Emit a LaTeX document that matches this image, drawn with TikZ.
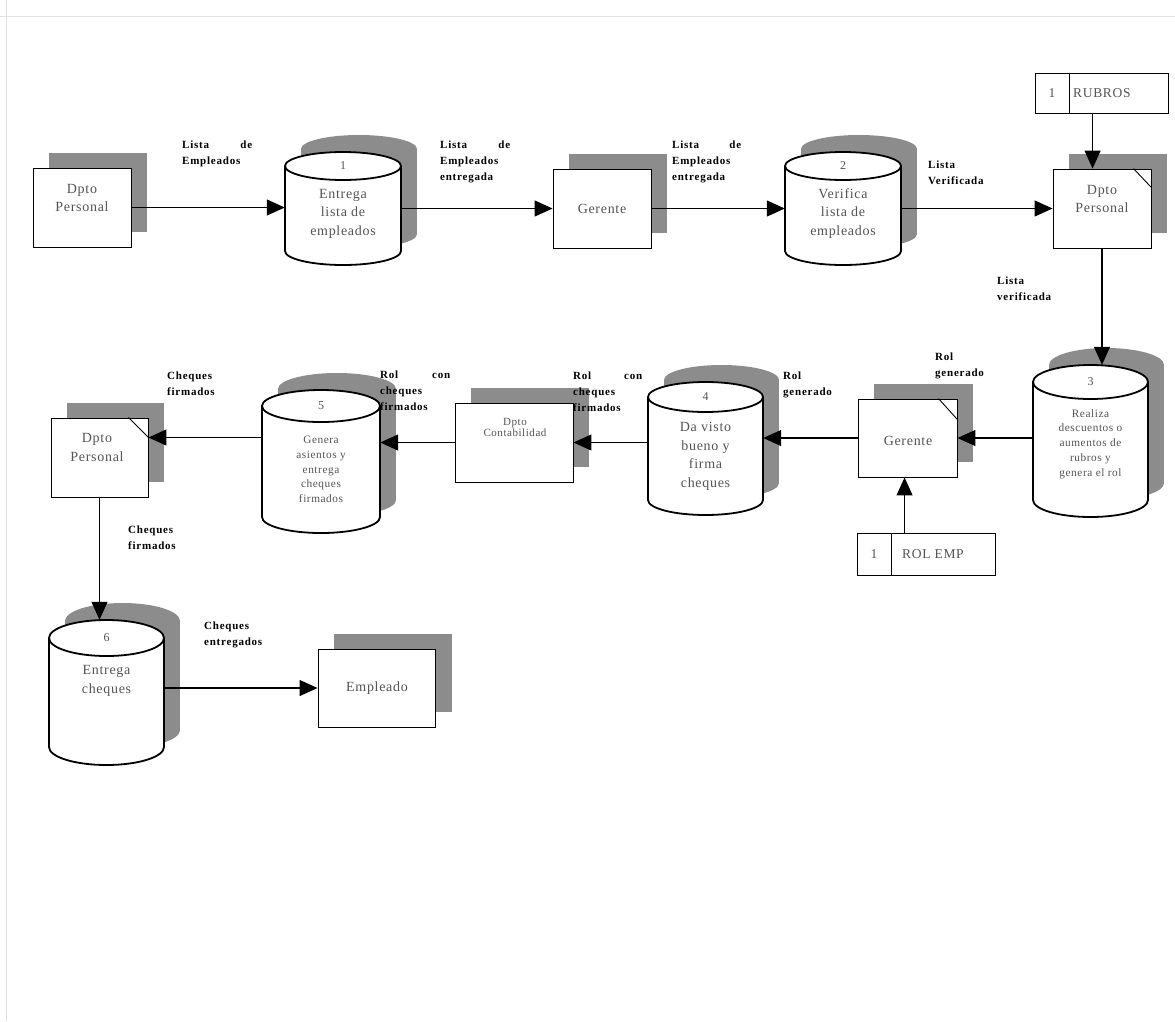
\documentclass[tikz,border=0pt]{standalone}
\usepackage{fontspec}
\setmainfont{Liberation Serif}
\newfontfamily\lblfont[LetterSpace=7]{Liberation Serif}
\newfontfamily\infont[LetterSpace=5]{Liberation Serif}
\usetikzlibrary{arrows.meta,calc,shadows}
\definecolor{shadowc}{gray}{0.55}
\definecolor{txtc}{gray}{0.33}
\tikzset{
  cylline/.style={draw=black, line width=1.8pt, fill=white},
  flow/.style={draw=black, line width=1.1pt, -{Triangle[length=18pt,width=16pt]}},
  entity/.style={draw=black, line width=0.9pt, fill=white, minimum width=98pt, minimum height=79pt, inner sep=0pt,
    drop shadow={shadow xshift=16pt, shadow yshift=15pt, fill=shadowc, opacity=1}},
  store/.style={draw=black, line width=0.9pt, fill=white, inner sep=0pt, minimum height=40pt},
  intxt/.style={font=\infont\fontsize{14}{18.5}\selectfont, text=txtc, align=center, inner sep=0pt},
  smalltxt/.style={font=\infont\fontsize{11.3}{14.8}\selectfont, text=txtc, align=center, inner sep=0pt},
  numtxt/.style={font=\infont\fontsize{12}{14}\selectfont, text=txtc, inner sep=0pt},
  lbl/.style={font=\lblfont\bfseries\fontsize{11}{16}\selectfont, anchor=north west, inner sep=0pt, align=left},
  storetxt/.style={font=\infont\fontsize{13.5}{16}\selectfont, text=txtc, inner sep=0pt},
}
% #1 name, #2 cx, #3 half width, #4 top centre y, #5 bottom centre y, #6 ry, #7 number
\newcommand\dfdcyl[7]{%
  \fill[shadowc] ({#2+16},{#4-17}) ellipse[x radius=#3, y radius=#6];
  \fill[shadowc] ({#2-#3+16},{#4-17}) rectangle ({#2+#3+16},{#5-17});
  \fill[shadowc] ({#2+16},{#5-17}) ellipse[x radius=#3, y radius=#6];
  \filldraw[cylline] (#2,#5) ellipse[x radius=#3, y radius=#6];
  \fill[white] ({#2-#3},#4) rectangle ({#2+#3},#5);
  \draw[cylline] ({#2-#3},#4) -- ({#2-#3},#5) ({#2+#3},#4) -- ({#2+#3},#5);
  \filldraw[cylline] (#2,#4) ellipse[x radius=#3, y radius=#6];
  \node[inner sep=0pt, minimum width={2*#3}, minimum height={#5-#4+2*#6}] (#1) at (#2,{(#4+#5)/2}) {};
  \node[numtxt] (#1n) at (#2,#4) {#7};
}
\begin{document}
\begin{tikzpicture}[x=1pt,y=-1pt]
\useasboundingbox (0,0) rectangle (1175,1021);
\fill[white] (0,0) rectangle (1175,1021);
\draw[gray!22, line width=1pt] (0,16) -- (1175,16) (6,0) -- (6,1021);

% ---- top row ----
\node[entity] (dp1) at (82,207.5) {};
\node[intxt] (dp1t) at (82,198) {Dpto\\Personal};

\dfdcyl{c1}{343}{58}{166}{251}{14}{1}
\node[intxt] (c1x) at (343,213.5) {Entrega\\lista de\\empleados};

\node[entity] (ger1) at (602,208.5) {};
\node[intxt] (ger1t) at (602,208.5) {Gerente};

\dfdcyl{c2}{843}{58}{166}{251}{14}{2}
\node[intxt] (c2x) at (843,213.5) {Verifica\\lista de\\empleados};

\node[entity] (dp2) at (1102,208.5) {};
\draw[line width=0.9pt] ($(dp2.north east)+(-18,0)$) -- ($(dp2.north east)+(0,19)$);
\node[intxt] (dp2t) at (1102,199) {Dpto\\Personal};

\node[store, minimum width=133pt] (rub) at (1101.5,93) {};
\draw[line width=0.9pt] ($(rub.north west)+(35,0)$) -- ($(rub.south west)+(35,0)$);
\node[storetxt] (rub1) at (1052,93) {1};
\node[storetxt, anchor=west] (rubt) at (1073,93) {RUBROS};

% ---- second row ----
\dfdcyl{c3}{1090.5}{57.5}{382}{500}{17}{3}
\node[smalltxt] (c3x) at (1090.5,444) {Realiza\\descuentos o\\aumentos de\\rubros y\\genera el rol};

\node[entity, minimum width=99pt, minimum height=78pt] (ger2) at (907.5,438) {};
\draw[line width=0.9pt] ($(ger2.north east)+(-19,0)$) -- ($(ger2.north east)+(0,21)$);
\node[intxt] (ger2t) at (908,441) {Gerente};

\node[store, minimum width=138pt, minimum height=42pt] (rol) at (926,554) {};
\draw[line width=0.9pt] ($(rol.north west)+(35,0)$) -- ($(rol.south west)+(35,0)$);
\node[storetxt] (rol1) at (874,554) {1};
\node[storetxt, anchor=west] (rolt) at (902,554) {ROL EMP};

\dfdcyl{c4}{705.5}{57.5}{397}{500}{15}{4}
\node[intxt] (c4x) at (705.5,456.5) {Da visto\\bueno y\\firma\\cheques};

\node[entity, minimum width=118pt, minimum height=79pt] (cont) at (514,442.5) {};
\node[font=\infont\fontsize{11}{11}\selectfont, text=txtc, align=center, inner sep=0pt] (contt) at (515,427) {Dpto\\Contabilidad};

\dfdcyl{c5}{321}{59}{406}{517}{16}{5}
\node[smalltxt] (c5x) at (321,469.5) {Genera\\asientos y\\entrega\\cheques\\firmados};

\node[entity, minimum width=97pt, minimum height=79pt] (dp3) at (99.5,457.5) {};
\draw[line width=0.9pt] ($(dp3.north east)+(-20,0)$) -- ($(dp3.north east)+(0,20)$);
\node[intxt] (dp3t) at (97,447.5) {Dpto\\Personal};

% ---- third row ----
\dfdcyl{c6}{106.5}{57.5}{638}{747}{18}{6}
\node[intxt] (c6x) at (106.5,681) {Entrega\\cheques};

\node[entity, minimum width=117pt, minimum height=78pt, drop shadow={shadow xshift=17pt, shadow yshift=15pt, fill=shadowc, opacity=1}] (emp) at (376.5,688) {};
\node[intxt] (empt) at (377,688) {Empleado};

% ---- connectors ----
\draw[flow] (dp1.east) -- (dp1.east -| c1.west);
\draw[flow] (c1.east) -- (c1.east -| ger1.west);
\draw[flow] (ger1.east) -- (ger1.east -| c2.west);
\draw[flow] (c2.east) -- (c2.east -| dp2.west);
\coordinate (rubout) at ($(rub.south west)+(58,0)$);
\draw[flow] (rubout) -- (rubout |- dp2.north);
\draw[flow] (dp2.south) -- (dp2.south |- c3.north);
\draw[flow] (c3.west |- ger2.east) -- (ger2.east);
\coordinate (rolout) at ($(rol.north west)+(48,0)$);
\draw[flow] (rolout) -- (rolout |- ger2.south);
\draw[flow] (ger2.west) -- (ger2.west -| c4.east);
\draw[flow] (cont.east -| c4.west) -- (cont.east);
\draw[flow] (cont.west) -- (cont.west -| c5.east);
\coordinate (dp3in) at ($(dp3.east)+(0,-20)$);
\draw[flow] (dp3in -| c5.west) -- (dp3in);
\draw[flow] (dp3.south) -- (dp3.south |- c6.north);
\draw[flow] (emp.west -| c6.east) -- (emp.west);

% ---- labels ----
\node[lbl, text width=70pt] (l1) at (182,141) {Lista\hfill de\\Empleados};
\node[lbl, text width=70pt] (l2) at (440,141) {Lista\hfill de\\Empleados\\entregada};
\node[lbl, text width=69pt] (l3) at (672,141) {Lista\hfill de\\Empleados\\entregada};
\node[lbl] (l4) at (928,161) {Lista\\Verificada};
\node[lbl] (l5) at (997,277) {Lista\\verificada};
\node[lbl] (l6) at (935,353) {Rol\\generado};
\node[lbl] (l7) at (783,372) {Rol\\generado};
\node[lbl, text width=69pt] (l8) at (573,372) {Rol\hfill con\\cheques\\firmados};
\node[lbl, text width=70pt] (l9) at (380,371) {Rol\hfill con\\cheques\\firmados};
\node[lbl] (l10) at (167,372) {Cheques\\firmados};
\node[lbl] (l11) at (128,526) {Cheques\\firmados};
\node[lbl] (l12) at (204,622) {Cheques\\entregados};
\end{tikzpicture}
\end{document}
